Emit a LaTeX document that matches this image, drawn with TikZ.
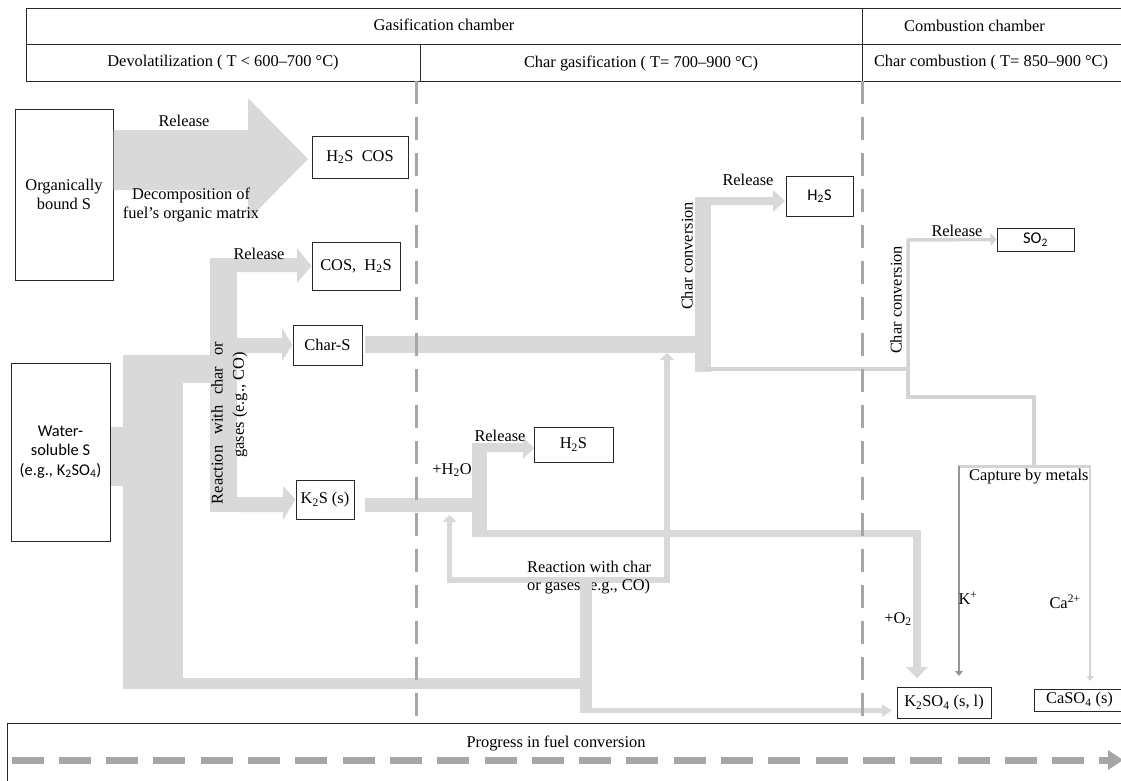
\documentclass[tikz,border=0pt]{standalone}
\usepackage{fontspec}
\setmainfont{Liberation Serif}
\newfontfamily\calib{Carlito}
\usetikzlibrary{arrows.meta,calc}
\definecolor{flow}{RGB}{217,217,217}
\definecolor{thinc}{RGB}{212,212,212}
\definecolor{dashc}{RGB}{166,166,166}
\definecolor{klinec}{RGB}{150,150,150}
\definecolor{framec}{RGB}{40,40,40}
\begin{document}
\begin{tikzpicture}[x=1pt,y=-1pt, font=\fontsize{16.4}{19}\selectfont,
  box/.style={draw=framec, line width=1pt, inner sep=0pt, align=center},
  lbl/.style={inner sep=0pt},
  sans/.style={font={\calib\fontsize{16.4}{19.5}\selectfont}},
  thinln/.style={draw=thinc, line width=3.5pt},
  loopln/.style={draw=flow, line width=5.5pt},
  dashln/.style={draw=dashc, line width=3pt, dash pattern=on 23pt off 13pt},
  hdr/.style={draw=framec, line width=1pt}
]
\useasboundingbox (0,0) rectangle (1121,780);

% ---------- header ----------
\draw[hdr] (1125,8) -- (26,8) -- (26,81) -- (1125,81);
\draw[hdr] (26,44) -- (1125,44);
\draw[hdr] (420,44) -- (420,81);
\draw[hdr] (862,8) -- (862,81);
\node[lbl] (gasch) at (444,25) {Gasification chamber};
\node[lbl] (combch) at (974.5,26) {Combustion chamber};
\node[lbl] (devol) at (223,63) {Devolatilization ( T < 600–700 °C)};
\node[lbl] (chargas) at (641,63) {Char gasification ( T= 700–900 °C)};
\node[lbl] (charcomb) at (991,63) {Char combustion ( T= 850–900 °C)};

% ---------- boxes ----------
\node[box, minimum width=98pt, minimum height=171pt] (org) at (64,194.5) {Organically\\bound S};
\node[box, minimum width=96pt, minimum height=42pt] (h2scos) at (360,157) {H\textsubscript{2}S\ \ COS};
\node[box, minimum width=88pt, minimum height=48pt] (cosh2s) at (356,266) {COS,\ \ H\textsubscript{2}S};
\node[box, minimum width=69pt, minimum height=40pt] (chars) at (327.5,345) {Char-S};
\node[box, minimum width=58pt, minimum height=39pt] (k2s) at (325,499.5) {K\textsubscript{2}S (s)};
\node[box, sans, minimum width=99pt, minimum height=178pt] (water) at (60.5,452) {Water-\\soluble S\\(e.g., K\textsubscript{2}SO\textsubscript{4})};
\node[box, sans, minimum width=67pt, minimum height=40pt] (h2sA) at (819.5,196) {H\textsubscript{2}S};
\node[box, sans, minimum width=77pt, minimum height=23pt] (so2) at (1035.5,239.5) {SO\textsubscript{2}};
\node[box, minimum width=79pt, minimum height=35pt] (h2sB) at (573.5,444.5) {H\textsubscript{2}S};
\node[box, minimum width=94pt, minimum height=31pt] (k2so4) at (944,702.5) {K\textsubscript{2}SO\textsubscript{4} (s, l)};
\node[box, minimum width=91pt, minimum height=22pt] (caso4) at (1079.5,700) {CaSO\textsubscript{4} (s)};

% ---------- devolatilization flows ----------
\fill[flow] (org.east |- 0,130) -- (248,130) -- (248,98) -- (308,159) -- (248,220) -- (248,190) -- (org.east |- 0,190) -- cycle;
\fill[flow] (water.east |- 0,427) rectangle (123,486);
\fill[flow] (123,355) rectangle (183,689);
\fill[flow] (183,355) rectangle (237,383);
\fill[flow] (210,258) rectangle (237,512);
\fill[flow] (237,258) -- (297,258) -- (297,248) -- (cosh2s.west) -- (297,283) -- (297,272) -- (237,272) -- cycle;
\fill[flow] (237,338) -- (282,338) -- (282,328) -- (chars.west) -- (282,361) -- (282,353) -- (237,353) -- cycle;
\fill[flow] (237,497) -- (283,497) -- (283,486) -- (k2s.west) -- (283,520) -- (283,512) -- (237,512) -- cycle;

% ---------- char-S path ----------
\fill[flow] (365,336) rectangle (695,353);
\fill[flow] (695,197) rectangle (711,372);
\fill[flow] (711,197) -- (773,197) -- (773,190) -- (785,201) -- (773,212) -- (773,205) -- (711,205) -- cycle;
\draw[thinln] (705,369) -- (908,369);
\draw[thinln, -{Triangle[width=13pt,length=6pt]}] (908,397) -- (908,240) -- (so2.west);
\draw[thinln] (908,369) -- (908,397) -- (1034,397) -- (1034,466);
\draw[draw=thinc, line width=3pt] (957.5,466) -- (1091,466);
\draw[draw=klinec, line width=2.2pt, -{Triangle[width=8pt,length=5pt]}] (959,466) -- (959,676);
\draw[draw=thinc, line width=1.3pt, -{Triangle[width=7pt,length=5pt]}] (1090,466) -- (1090,681);

% ---------- K2S path ----------
\fill[flow] (365,498) rectangle (472,512);
\fill[flow] (472,443) rectangle (487,537);
\fill[flow] (487,443) -- (523,443) -- (523,437) -- (534,448) -- (523,459) -- (523,452) -- (487,452) -- cycle;
\fill[flow] (487,530) rectangle (921,537);
\fill[flow] (913,530) rectangle (921,667);
\fill[flow] (906,667) -- (928,667) -- (917,678) -- cycle;

% ---------- reaction loop ----------
\draw[loopln, -{Triangle[width=14pt,length=7pt]}] (586,580) -- (449.5,580) -- (449.5,515);
\draw[loopln, -{Triangle[width=14pt,length=7pt]}] (586,580) -- (667,580) -- (667,353);
\node[lbl, anchor=west] (reac2a) at (527,567) {Reaction with char};
\node[lbl, anchor=west] (reac2b) at (527,587) {or gases (e.g., CO)};
\fill[flow] (183,678) rectangle (592,689);
\fill[flow] (580,577) rectangle (592,713);
\draw[draw=flow, line width=5pt, -{Triangle[width=12pt,length=10pt]}] (580,710.5) -- (892,710.5);

% ---------- labels ----------
\node[lbl] (rel1) at (184,121) {Release};
\node[lbl, align=center] (decomp) at (191,205) {Decomposition of\\fuel’s organic matrix};
\node[lbl] (rel2) at (259,254) {Release};
\node[lbl, rotate=90] (reac1a) at (217,423) {\makebox[162pt][s]{Reaction with char or}};
\node[lbl, rotate=90] (reac1b) at (240,405) {gases (e.g., CO)};
\node[lbl] (rel3) at (748,180) {Release};
\node[lbl, rotate=90] (cc1) at (687,256) {Char conversion};
\node[lbl] (rel4) at (957,231) {Release};
\node[lbl, rotate=90] (cc2) at (896,300) {Char conversion};
\node[lbl, anchor=west] (capt) at (969,477) {Capture by metals};
\node[lbl] (rel5) at (500,436) {Release};
\node[lbl] (h2o) at (452,470) {+H\textsubscript{2}O};
\node[lbl] (o2) at (898,619) {+O\textsubscript{2}};
\node[lbl] (kp) at (968,598) {K\textsuperscript{+}};
\node[lbl] (cap) at (1065,602) {Ca\textsuperscript{2+}};

% ---------- stage borders ----------
\draw[dashln] (416,81) -- (416,723);
\draw[dashln] (862,81) -- (862,723);

% ---------- progress ----------
\draw[hdr] (7,781) -- (7,723) -- (1125,723);
\node[lbl] (prog) at (556,743) {Progress in fuel conversion};
\draw[draw=dashc, line width=7pt, dash pattern=on 32pt off 15.3pt] (11.5,760) -- (1108,760);
\fill[dashc] (1108,750) -- (1123,760) -- (1108,770) -- cycle;
\end{tikzpicture}
\end{document}
